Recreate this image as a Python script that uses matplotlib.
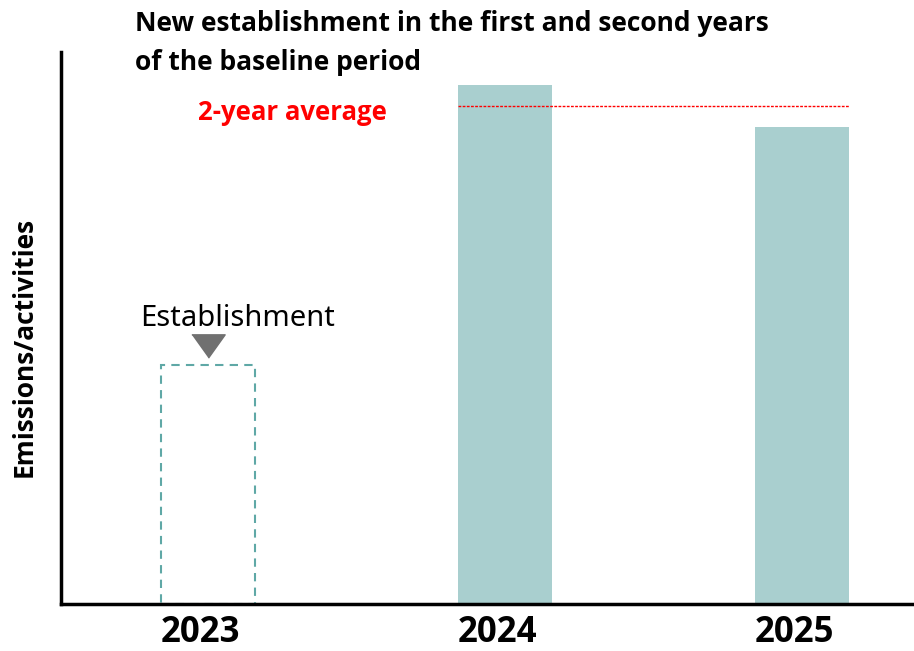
import matplotlib
matplotlib.use("Agg")
import matplotlib.pyplot as plt
from matplotlib.transforms import ScaledTranslation

# data (arbitrary units)
years = ["2023", "2024", "2025"]
values = [239, 519, 477]
average = (values[1] + values[2]) / 2

teal = "#a9cfcf"
teal_edge = "#5fa8a6"

fig = plt.figure(figsize=(9.14, 6.51), dpi=100)
ax = fig.add_axes([61 / 914, 47 / 651, 853 / 914, 552 / 651])

x = list(range(len(years)))
w = 0.3165

# 2023: dashed outline only (establishment year)
ax.bar(x[0], values[0], width=w, facecolor="none", edgecolor=teal_edge,
       linestyle=(0, (4, 3)), linewidth=1.5)
ax.bar(x[1:], values[1:], width=w, color=teal)

# 2-year average line
ax.plot([x[1] - w / 2, x[2] + w / 2], [average, average], color="red",
        linestyle=(0, (2, 1)), linewidth=1)
ax.text(0.285, average - 7, "2-year average", color="red", fontsize=18.5,
        fontweight="bold", family="Open Sans", ha="center", va="center")

# establishment marker (flat downward triangle)
tri = [(-1, 0.7), (1, 0.7), (0, -0.7)]
ax.plot(x[0], values[0] + 19, marker=tri, color="#707070", markersize=24,
        linestyle="none")
ax.text(0.1, values[0] + 47, "Establishment", fontsize=21, family="Noto Sans",
        ha="center", va="center")

ax.set_xlim(-0.495, 2.377)
ax.set_ylim(0, 552)
ax.set_xticks(x)
ax.set_xticklabels(years, fontsize=25, fontweight="bold", family="Open Sans")
ax.tick_params(axis="x", length=0, pad=8)
# labels sit slightly left of the bar centres in the original
for lab in ax.get_xticklabels():
    lab.set_transform(lab.get_transform() + ScaledTranslation(-0.08, 0, fig.dpi_scale_trans))
ax.set_yticks([])
for s in ["top", "right"]:
    ax.spines[s].set_visible(False)
for s in ["left", "bottom"]:
    ax.spines[s].set_linewidth(2.5)

ax.set_ylabel("Emissions/activities", fontsize=19, fontweight="bold",
              family="Open Sans")
ax.yaxis.set_label_coords(-0.027, 0.466)

fig.text(135 / 914, 1 - 10 / 651,
         "New establishment in the first and second years\nof the baseline period",
         fontsize=19, fontweight="bold", family="Open Sans", ha="left", va="top",
         linespacing=1.55)

fig.savefig("out.png", dpi=100)
